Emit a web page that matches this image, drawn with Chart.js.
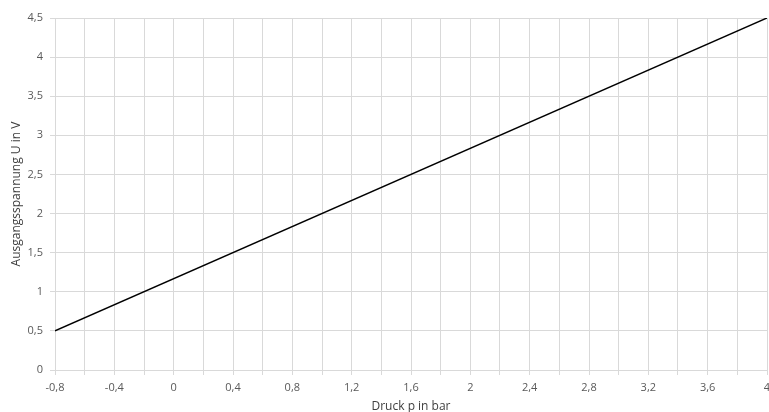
<!DOCTYPE html>
<html>
<head>
<meta charset="utf-8">
<script src="https://cdn.jsdelivr.net/npm/chart.js@4/dist/chart.umd.min.js"></script>
<style>
  html, body { margin: 0; padding: 0; background: #fff; overflow: hidden; }
  #wrap { width: 769px; height: 420px; position: relative; }
</style>
</head>
<body>
<div id="wrap"><canvas id="kennlinie"></canvas></div>
<script>
// Kennlinie: Druck p in bar -> Ausgangsspannung U in V
const druckWerte = [-0.8, 4];
const spannungWerte = [0.5, 4.5];
const xTitel = "Druck p in bar";
const yTitel = "Ausgangsspannung U in V";

const gridColor = "#d9d9d9";
const tickColor = "#595959";

// format numbers with decimal comma
function deutsch(v){
  let r = Math.round(v * 10) / 10;
  return String(r).replace(".", ",");
}

const punkte = druckWerte.map((x, i) => ({x: x, y: spannungWerte[i]}));

new Chart(document.getElementById("kennlinie"), {
  type: "scatter",
  data: {
    datasets: [{
      data: punkte,
      showLine: true,
      borderColor: "#000000",
      borderWidth: 1.5,
      pointRadius: 0,
      fill: false
    }]
  },
  options: {
    responsive: true,
    maintainAspectRatio: false,
    animation: false,
    layout: { padding: { top: 18, right: 2, left: 0, bottom: 0 } },
    plugins: {
      legend: { display: false },
      tooltip: { enabled: false }
    },
    scales: {
      x: {
        type: "linear",
        min: -0.8,
        max: 4,
        grid: { color: gridColor, tickLength: 5, tickColor: gridColor },
        border: { color: gridColor },
        ticks: {
          stepSize: 0.2,
          autoSkip: false,
          maxRotation: 0,
          padding: 6,
          color: tickColor,
          font: { family: "Open Sans", size: 11 },
          callback: function(value, index){
            return index % 2 === 0 ? deutsch(value) : "";
          }
        },
        title: {
          display: true,
          text: xTitel,
          color: "#404040",
          font: { family: "Open Sans", size: 12 },
          padding: { top: 4, bottom: 6 }
        },
        afterFit: function(scale){
          scale.height = 50;
          scale.paddingLeft = 0;
          scale.paddingRight = 0;
        }
      },
      y: {
        type: "linear",
        min: 0,
        max: 4.5,
        grid: { color: gridColor, tickLength: 5, tickColor: gridColor },
        border: { display: false },
        ticks: {
          stepSize: 0.5,
          padding: 7,
          color: tickColor,
          font: { family: "Open Sans", size: 11 },
          callback: function(value){ return deutsch(value); }
        },
        title: {
          display: true,
          text: yTitel,
          color: "#404040",
          font: { family: "Open Sans", size: 12 },
          padding: { top: 9, bottom: 4 }
        },
        afterFit: function(scale){
          scale.width = 55;
          scale.paddingTop = 0;
          scale.paddingBottom = 0;
        }
      }
    }
  }
});
</script>
</body>
</html>
